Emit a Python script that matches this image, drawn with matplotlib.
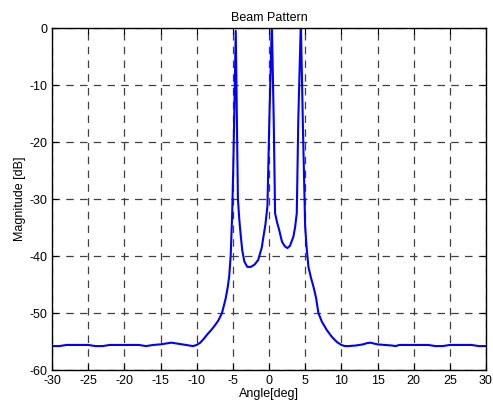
import matplotlib.pyplot as plt
import numpy as np

plt.rcParams['font.family'] = ['Liberation Sans', 'DejaVu Sans']
plt.rcParams['axes.unicode_minus'] = False

# beam pattern (angle in deg, magnitude in dB)
angle = [-30, -29, -28, -27, -26, -25, -24, -23, -22, -21, -20, -19, -18, -17,
         -16, -15, -14, -13.5, -13, -12, -11, -10.5, -10, -9.5, -9, -8.5, -8,
         -7.5, -7, -6.5, -6, -5.7, -5.5, -5.3, -5.1, -4.95, -4.8, -4.6,
         -4.45, -4.3, -4.1, -3.9, -3.7, -3.4, -3.0, -2.5, -2.0, -1.5, -1.0,
         -0.77, -0.5, -0.22, 0.05, 0.39, 0.65, 0.84, 1.1, 1.4,
         1.8, 2.2, 2.55, 2.9, 3.37, 3.6, 3.84, 4.05, 4.4, 4.7,
         5.0, 5.2, 5.45, 5.8, 6.15, 6.5, 6.83, 7.3, 8.0, 8.7, 9.4, 10,
         10.5, 11, 12, 13, 13.5, 14, 15, 16, 17, 17.5, 18, 19, 20, 21, 22, 23,
         24, 25, 26, 27, 28, 29, 30]
magnitude = [-55.8, -55.8, -55.6, -55.6, -55.6, -55.6, -55.8, -55.8, -55.6,
             -55.6, -55.6, -55.6, -55.6, -55.8, -55.6, -55.5, -55.3, -55.2,
             -55.3, -55.5, -55.7, -55.8, -55.6, -55.2, -54.5, -53.7, -53.0,
             -52.2, -51.3, -50.0, -47.5, -45.4, -43.5, -40.0, -33.0, -25.0,
             -15.0, -0.5, -15.0, -30.0, -33.7, -36.5, -39.0,
             -41.0, -41.9, -41.9, -41.5, -40.7, -38.5, -36.6, -34.5, -31.3,
             -16.0, 1.0, -16.0, -32.5, -34.0, -35.4, -37.5,
             -38.3, -38.6, -38.2, -36.6, -35.0, -32.5, -16.0, 1.0,
             -18.0, -34.9, -38.5, -41.9, -43.8, -45.4, -47.3,
             -50.0, -51.5, -53.0, -54.2, -55.1, -55.6, -55.8, -55.8, -55.7,
             -55.5, -55.3, -55.2, -55.5, -55.6, -55.7, -55.8, -55.6, -55.6,
             -55.6, -55.6, -55.6, -55.8, -55.8, -55.6, -55.6, -55.6, -55.6,
             -55.8, -55.8]

fig = plt.figure(figsize=(4.93, 4.08), dpi=100)
ax = fig.add_axes([0.1055, 0.0931, 0.8803, 0.838])

ax.plot(angle, magnitude, color='#0000ff', linewidth=1.5)

ax.set_xlim(-30, 30)
ax.set_ylim(-60, 0)
ax.set_xticks(np.arange(-30, 31, 5))
ax.set_yticks(np.arange(-60, 1, 10))
ax.grid(True, linestyle=(0, (6, 5)), color='#404040', linewidth=0.9)
ax.tick_params(direction='in', top=True, right=True, labelsize=9, length=4)
for s in ax.spines.values():
    s.set_linewidth(1.0)

ax.set_title('Beam Pattern', fontsize=9, pad=5)
ax.set_xlabel('Angle[deg]', fontsize=9, labelpad=1)
ax.set_ylabel('Magnitude [dB]', fontsize=9, labelpad=2)

fig.savefig('out.png', dpi=100)
